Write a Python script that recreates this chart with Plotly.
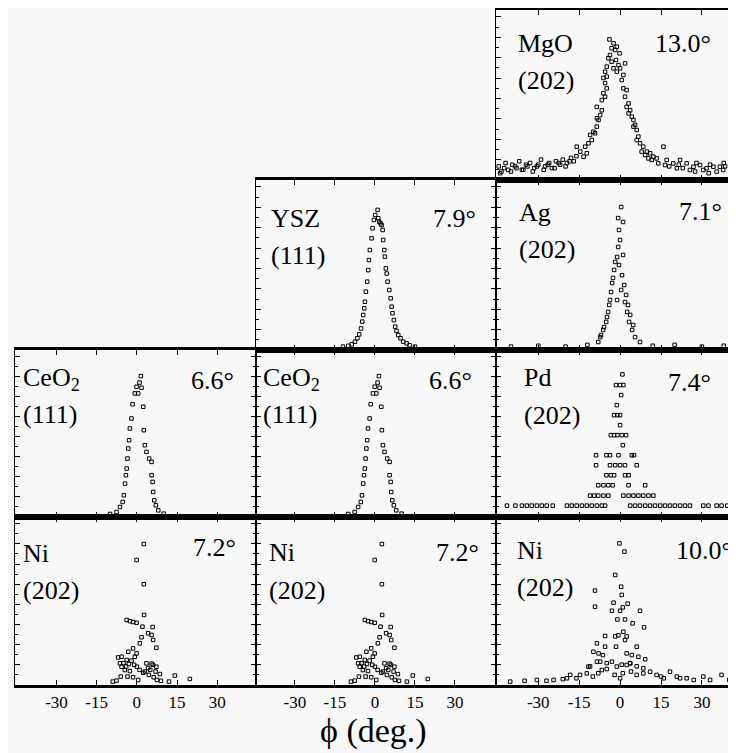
import plotly.graph_objects as go

# ---------------- data (phi in degrees, intensity in arbitrary units 0-100) ----------------
mgo_phi = [-44.5,-43.5,-42,-41,-39.5,-38,-37,-35.5,-34,-33,-31.5,-30,-29,-27.5,-26,-25,-23.5,-22,-21,-19.5,-18,-17,-16,
           -44,-42.5,-40,-38.5,-36,-34.5,-32,-30.5,-28,-26.5,-24,-22.5,-20,-18.5,
           -15.9,-14.6,-13.4,-12.8,-12.2,-11.6,-11.0,-10.4,-9.8,-9.2,-8.55,-8.5,-8.55,-7.9,-7.3,-6.7,-6.7,-6.1,-6.1,-5.5,-5.5,-5.5,
           -4.9,-4.9,-4.9,-4.3,-3.7,-3.9,-3.1,-3.1,-2.4,-2.4,-1.8,-1.5,-1.2,-1.2,-0.6,-0.2,0.0,
           0.6,1.2,1.8,1.2,2.4,1.8,2.4,3.1,3.1,3.7,4.3,4.9,4.9,5.5,6.1,6.1,6.7,7.3,7.9,8.5,9.2,9.8,10.4,11.0,11.6,12.2,13.4,14.0,
           15.9,16.5,17.1,19.5,20.8,22.0,24.4,25.6,26.9,29.3,30.5,31.7,34.2,35.4,36.6,37.8,38.5,
           18.0,21.5,23.0,28.0,33.0,38.0,27.5,32.5]
mgo_int = [8,5,10,6,9,7,11,6,8,10,7,9,12,8,10,7,11,9,12,10,13,11,14,
           4,7,5,8,6,9,5,8,6,9,7,10,8,11,
           19.6,16.7,13.7,19.6,15.7,21.6,26.5,23.5,28.4,27.5,31.4,36.3,43,35.3,38.2,47,41,51,60,57,49,63.7,
           60.8,66.7,53.9,71.6,73.5,82.7,69.6,77.5,80.4,65.7,76.5,70.6,63.7,78.4,67.6,74.5,65.7,
           58.8,61.8,68.6,53.9,52.9,49,43,45,39.2,41,37.3,35.3,31.4,32.4,29.4,23.5,25.5,21.6,16.7,19.6,14.7,16.7,12.7,15.7,11.8,13.7,12.7,9.8,
           19.6,8.8,11.8,9.8,6.9,11.8,9.8,5.9,7.8,8.8,5.9,6.9,7.8,4.9,7.8,5.9,8,
           8,9,7,10,9,10,5,4]

ysz_phi = [1.0,0.1,1.25,-0.4,1.6,2.1,-0.9,2.5,2.9,-1.25,3.1,-1.9,3.5,-2.25,3.75,-2.5,4.1,4.4,-2.9,4.75,-3.4,5.4,
           -3.75,5.9,-4.0,6.25,-4.4,6.6,-4.75,7.1,-5.2,7.6,-5.9,8.1,-6.6,8.75,-7.5,9.6,-8.7,10.6,11.9,-10,13,-12,15]
ysz_int = [82.4,79.4,77.5,76.5,75.5,74.5,71.6,73.5,70.6,65.7,64.7,58.8,58.8,52.9,54.9,47,48,45,40.2,40.2,34.3,35.3,
           28.4,30.4,24.5,25.5,20.6,21.6,16.7,17.6,12.7,13.7,9.2,11.2,6.9,8.8,4.9,6.9,3.3,4.9,3.9,2.5,2.8,2,2]

ag_phi = [0.4,-0.4,0.0,-1.1,-2.2,-0.4,-2.9,0.4,-3.7,-1.1,1.8,-4.4,2.6,-5.1,3.3,-6.2,4.4,-7.3,5.5,-8.0,7.3,
          1.1,0.7,1.5,2.2,2.9,3.7,4.8,-0.7,-1.8,-2.6,-3.3,-4.0,-4.8,-5.9,-7.0,1.1,-0.7,
          -40,-30,-20,-12,12,20,30,38]
ag_int = [84.1,70.6,64.7,54.7,47.1,50,39.4,35.3,29.4,29.4,28.2,22.4,22.4,16.5,16.5,11.8,11.8,7.6,7.6,4.7,4.7,
          55.9,44,38.2,32.4,26.5,20.6,14.7,60.6,51.8,42.4,34.1,26.5,19.4,13.5,8.8,75.3,77.6,
          2,2.5,2,3,2.5,3,2,2.5]

ceo2_phi = [1.5,-0.1,1.75,-0.75,0.5,1.0,-1.6,2.4,-2.0,2.6,-2.6,-2.9,3.0,-3.2,3.6,-3.5,4.6,5.5,-3.8,-4.1,5.5,-4.4,5.9,
            -4.85,6.1,-5.3,6.5,-6.3,7.1,-7.6,8.0,-10,10]
ceo2_int = [84.4,78,77.4,74,74,80.5,67.5,66,59,52,53,46,43,41,39,35,35,33,29,25,25,20,21,
            13,15,9,10,6,7,3,4,1.8,2]

pd_phi = [0.85,
          -1.5,0.0,1.2,
          0.4,
          -1.2,
          -2.2,-1.0,0.0,
          0.0,
          -3.4,-2.2,-1.0,0.6,2.2,
          1.0,
          -8.8,-5.0,-3.7,-0.6,4.3,5.1,
          -8.8,-3.7,-1.8,0.0,1.8,6.1,
          -5.0,-3.4,-2.2,1.8,3.1,
          -8.0,-6.1,-4.3,-2.7,3.1,9.2,
          -11,-9.5,-8.0,-6.1,-4.3,1.2,3.1,4.9,6.7,8.5,10.4,12.2,
          -41.5,-38.4,-36,-34.2,-32.4,-30.5,-28.7,-26.9,-24.7,
          -19.5,-17.7,-15.9,-14,-12.2,-10.4,-8.5,-6.7,-5.5,
          3.7,5.5,7.3,9.2,11,12.8,14.7,16.5,18.3,20.1,22,23.8,25.6,
          30.5,32.4,35.4,37.2,39.3]
pd_int = [85.4,
          79,79,79,
          73,
          67,
          61,61,61,
          55,
          49,49,49,49,49,
          43,
          37,37,37,37,37,37,
          31,31,31,31,31,31,
          25,25,25,25,25,
          19,19,19,19,19,19,
          12.8,12.8,12.8,12.8,12.8,12.8,12.8,12.8,12.8,12.8,12.8,12.8,
          6.8,6.8,6.8,6.8,6.8,6.8,6.8,6.8,6.8,
          6.8,6.8,6.8,6.8,6.8,6.8,6.8,6.8,6.8,
          6.8,6.8,6.8,6.8,6.8,6.8,6.8,6.8,6.8,6.8,6.8,6.8,6.8,
          6.8,6.8,6.8,6.8,6.8]

ni_phi = [2.6,-0.1,2.6,2.7,-3.8,-2.6,-1.4,-0.1,2.1,5.9,5.5,4.2,1.75,6.1,7.3,1.1,-1.4,-3.2,-0.1,-5.7,-7.0,-3.8,-2.0,
          0.0,3.6,5.5,7.3,-5.7,-4.5,-2.6,8.6,6.3,14.2,19.8,-1.4,-7.6,2.4,4.2,-6.3,-0.75,
          -5,-4,-3,-1,1,3,4.5,5,6,7,-6,-3.5,0.5,7.5,9,-9,12]
ni_int = [83.9,74.4,60,41.7,38.7,38,37.5,37,34.7,34.5,29.8,30.8,28.4,26.8,22.2,24.8,21.8,19.8,18.8,16.8,16.4,14.9,14.5,
          10.9,12.9,12.7,10.9,10.9,8.9,8.3,6.5,4.6,5.6,3.6,4.6,2.6,7.3,10.1,12.9,16.8,
          13,11,12.5,12,9,8,6,9,12,8,5,5,3,3,2.5,2,2]

ni3_phi = [-0.25,1.6,-1.8,-9.2,0.4,0.6,-9.2,-2.4,2.8,1.0,-3.0,0.0,7.3,-1.0,1.8,4.6,8.8,1.2,-5.5,-1.8,-0.6,2.4,1.8,
           -1.5,-8.5,-5.5,6.1,-9.8,-7.9,-6.3,2.4,4.3,6.7,9.2,-7.3,-4.9,-3.0,0.6,3.7,-11,6.1,-11.6,-8.5,
           -18.3,-14.7,-12.2,-6.7,-4.9,-1.2,2.4,3.7,6.1,8.5,11,13.4,18.3,20.8,24.4,30.5,37.2,-40.3,-30.5,-24.4,-19.5,0.0,8.5,
           -16,-10,-8,15,16,22,27,33,40,-35,-27,-21,-2,1,4]
ni3_int = [84.3,79.4,65.5,56.2,58.5,53.6,46.6,49,48.4,46.2,44.2,44.2,44.2,39,39,36.7,34.3,31.7,29.2,28.9,29.6,28.9,26.8,
           22.8,24.8,22.8,22.8,19.8,18.8,17.8,18.8,17.8,16.8,15.3,13.9,13,13.9,12.1,13,11.1,11.1,10.9,13.9,
           6,6,6.9,8.9,9.5,11,11.9,12.9,6,6.9,7.9,6,7.9,5,4,5,6,2,3,3,4,4,9.9,
           4,5,7,5,4,4,3,3,3,2.5,2.5,3.5,6,7,8]

x_tickvals = [-30, -15, 0, 15, 30]
x_ticktext = ["-30", "-15", "0", "15", "30"]

# panels: row, col, data, material, reflection, FWHM
panels = [
    (1, 3, mgo_phi, mgo_int, "MgO", "(202)", "13.0°"),
    (2, 2, ysz_phi, ysz_int, "YSZ", "(111)", "7.9°"),
    (2, 3, ag_phi, ag_int, "Ag", "(202)", "7.1°"),
    (3, 1, ceo2_phi, ceo2_int, "CeO<sub>2</sub>", "(111)", "6.6°"),
    (3, 2, ceo2_phi, ceo2_int, "CeO<sub>2</sub>", "(111)", "6.6°"),
    (3, 3, pd_phi, pd_int, "Pd", "(202)", "7.4°"),
    (4, 1, ni_phi, ni_int, "Ni", "(202)", "7.2°"),
    (4, 2, ni_phi, ni_int, "Ni", "(202)", "7.2°"),
    (4, 3, ni3_phi, ni3_int, "Ni", "(202)", "10.0°"),
]

# ---------------- layout geometry (page pixels; page body has an 8px margin) ----------------
OFF = 8
W, H = 736 - OFF, 753 - OFF
col_px = {1: (15, 256), 2: (256, 496), 3: (496, 736)}
row_px = {1: (10, 180), 2: (180, 350), 3: (350, 517), 4: (517, 685)}
col_range = {1: [-45.5, 44.5], 2: [-44.6, 45.4], 3: [-45.5, 42.5]}
# label positions: name_x, name_y, hkl_y, fwhm_right_x, fwhm_y
label_px = [
    (516, 43, 80, 713, 43),
    (269, 218, 255, 478, 218),
    (517, 213, 250, 724, 212),
    (21, 379, 414, 236, 380),
    (261, 379, 414, 474, 380),
    (522, 377, 415, 713, 382),
    (21, 553, 590, 238, 547),
    (267, 552, 590, 481, 552),
    (515, 550, 587, 734, 550),
]


def px_x(p):
    return (p - OFF) / W


def px_y(p):
    return 1 - (p - OFF) / H


FONT = "Liberation Serif, Times New Roman, serif"
fig = go.Figure()
annotations = []

for i, (r, c, px, py, name, hkl, fw) in enumerate(panels):
    k = "" if i == 0 else str(i + 1)
    xa, ya = "x" + k, "y" + k
    fig.add_trace(go.Scatter(
        x=px, y=py, mode="markers", xaxis=xa, yaxis=ya, showlegend=False,
        marker=dict(symbol="square-open", size=3.5, color="black", line=dict(width=1, color="black")),
    ))
    x0, x1 = col_px[c]
    y0, y1 = row_px[r]
    bottom = (r == 4)
    fig.layout["xaxis" + k] = dict(
        domain=[px_x(x0), min(px_x(x1), 1)], range=col_range[c], anchor=ya,
        showline=True, linecolor="black", linewidth=2.5, mirror="ticks",
        ticks="inside", ticklen=5, tickwidth=1, tickcolor="black",
        tickvals=x_tickvals, ticktext=x_ticktext, showticklabels=bottom,
        tickfont=dict(family=FONT, size=17, color="black"),
        showgrid=False, zeroline=False, fixedrange=True,
    )
    fig.layout["yaxis" + k] = dict(
        domain=[px_y(y1), px_y(y0)], range=[0, 100], anchor=xa,
        showline=True, linecolor="black", linewidth=1, mirror=("ticks" if c != 3 else False),
        ticks="inside", ticklen=5, tickwidth=1, tickcolor="black", dtick=12,
        minor=dict(ticks="inside", ticklen=3, dtick=6, tickcolor="black"),
        showticklabels=False, showgrid=False, zeroline=False, fixedrange=True,
    )
    nx, ny, hy, fx, fy = label_px[i]
    common = dict(xref="paper", yref="paper", showarrow=False,
                  font=dict(family=FONT, size=26, color="black"), yanchor="middle")
    annotations.append(dict(x=px_x(nx), y=px_y(ny), text=name, xanchor="left", **common))
    annotations.append(dict(x=px_x(nx), y=px_y(hy), text=hkl, xanchor="left", **common))
    annotations.append(dict(x=px_x(fx), y=px_y(fy), text=fw, xanchor="right", **common))

annotations.append(dict(x=px_x(373), y=px_y(731), xref="paper", yref="paper", showarrow=False,
                        text="ϕ (deg.)", xanchor="center", yanchor="middle",
                        font=dict(family=FONT, size=34, color="black")))

fig.update_layout(
    width=W, height=H, margin=dict(l=0, r=0, t=0, b=0),
    paper_bgcolor="#f8f8f8", plot_bgcolor="#f8f8f8",
    annotations=annotations,
)

fig.write_html("out.html")
